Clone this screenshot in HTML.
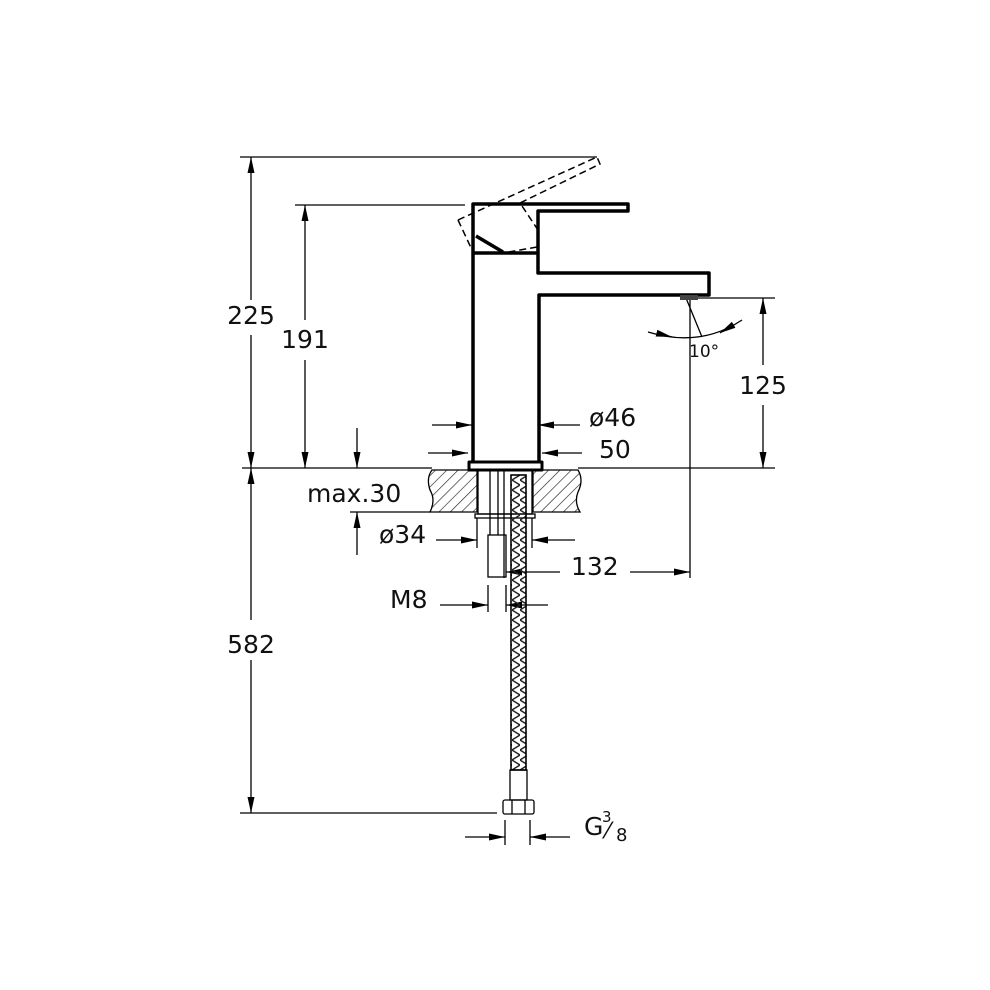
<!DOCTYPE html>
<html><head><meta charset="utf-8"><style>
html,body{margin:0;padding:0;background:#fff;}
svg{display:block;}
text{font-family:"DejaVu Sans","Liberation Sans",sans-serif;font-size:25px;fill:#111;font-weight:normal;}
</style></head><body>
<svg width="990" height="990" viewBox="0 0 990 990" xmlns="http://www.w3.org/2000/svg">
<defs>
<marker id="a" viewBox="0 0 16 8" refX="16" refY="4" markerWidth="16" markerHeight="8" markerUnits="userSpaceOnUse" orient="auto"><path d="M0,0.5 L16,4 L0,7.5 Z" fill="#000"/></marker>
<pattern id="h" width="8" height="8" patternUnits="userSpaceOnUse" patternTransform="rotate(45)"><line x1="0" y1="0" x2="0" y2="8" stroke="#222" stroke-width="1.3"/></pattern>
<pattern id="hb" width="8" height="10" patternUnits="userSpaceOnUse"><path d="M0,0 L8,5 L0,10" fill="none" stroke="#222" stroke-width="1.4"/></pattern>
</defs>
<g stroke="#000" stroke-width="1.3" fill="none">
<line x1="240" y1="157" x2="597" y2="157"/>
<line x1="295" y1="205" x2="465" y2="205"/>
<line x1="242" y1="468" x2="432" y2="468"/>
<line x1="578" y1="468" x2="775" y2="468"/>
<line x1="690" y1="298" x2="775" y2="298"/>
<line x1="240" y1="813" x2="497" y2="813"/>
<line x1="350" y1="512" x2="430" y2="512"/>
<line x1="690" y1="300" x2="690" y2="578"/>
<line x1="251" y1="300" x2="251" y2="157" marker-end="url(#a)"/>
<line x1="251" y1="335" x2="251" y2="468" marker-end="url(#a)"/>
<line x1="251" y1="620" x2="251" y2="468" marker-end="url(#a)"/>
<line x1="251" y1="660" x2="251" y2="813" marker-end="url(#a)"/>
<line x1="305" y1="320" x2="305" y2="205" marker-end="url(#a)"/>
<line x1="305" y1="360" x2="305" y2="468" marker-end="url(#a)"/>
<line x1="357" y1="428" x2="357" y2="468" marker-end="url(#a)"/>
<line x1="357" y1="555" x2="357" y2="512" marker-end="url(#a)"/>
<line x1="763" y1="365" x2="763" y2="298" marker-end="url(#a)"/>
<line x1="763" y1="405" x2="763" y2="468" marker-end="url(#a)"/>
<line x1="432" y1="425" x2="472" y2="425" marker-end="url(#a)"/>
<line x1="580" y1="425" x2="538" y2="425" marker-end="url(#a)"/>
<line x1="428" y1="453" x2="468" y2="453" marker-end="url(#a)"/>
<line x1="582" y1="453" x2="542" y2="453" marker-end="url(#a)"/>
<line x1="436" y1="540" x2="477" y2="540" marker-end="url(#a)"/>
<line x1="575" y1="540" x2="532" y2="540" marker-end="url(#a)"/>
<line x1="477" y1="518" x2="477" y2="548"/>
<line x1="532" y1="518" x2="532" y2="548"/>
<line x1="630" y1="572" x2="690" y2="572" marker-end="url(#a)"/>
<line x1="560" y1="572" x2="506" y2="572" marker-end="url(#a)"/>
<line x1="440" y1="605" x2="488" y2="605" marker-end="url(#a)"/>
<line x1="548" y1="605" x2="506" y2="605" marker-end="url(#a)"/>
<line x1="488" y1="585" x2="488" y2="612"/>
<line x1="506" y1="585" x2="506" y2="612"/>
<line x1="465" y1="837" x2="505" y2="837" marker-end="url(#a)"/>
<line x1="570" y1="837" x2="530" y2="837" marker-end="url(#a)"/>
<line x1="505" y1="820" x2="505" y2="845"/>
<line x1="530" y1="820" x2="530" y2="845"/>
<path d="M648,332 Q700,348 742,320"/>
<line x1="668" y1="336" x2="672" y2="337" marker-end="url(#a)"/>
<line x1="725" y1="330" x2="720" y2="333" marker-end="url(#a)"/>
<line x1="686" y1="298" x2="702" y2="337"/>
</g>
<path d="M432,470 L477,470 L477,512 L430,512 Q436,500 430,490 Q426,478 432,470 Z" fill="url(#h)" stroke="#000" stroke-width="1.3"/>
<path d="M533,470 L578,470 Q584,480 578,492 Q574,502 580,512 L533,512 Z" fill="url(#h)" stroke="#000" stroke-width="1.3"/>
<g stroke="#000" stroke-width="3.5" fill="none" stroke-linejoin="round">
<path d="M473,462 L473,204 L628,204 L628,211 L538,211 L538,273 L709,273 L709,295 L539,295 L539,462"/>
<path d="M473,253 L537,253"/>
<path d="M476,236 L503,252"/>
<rect x="469" y="462" width="73" height="8" stroke-width="3"/>
</g>
<path d="M458,220 L597,157 L600,164 L520,203 L538,230 M537,247 L503,253 M458,220 L473,252" stroke="#000" stroke-width="1.5" fill="none" stroke-dasharray="7,4"/>
<rect x="680" y="295" width="18" height="5" fill="#444"/>
<g stroke="#000" stroke-width="1.3" fill="none">
<rect x="478" y="470" width="54" height="44"/>
<rect x="475" y="514" width="60" height="4"/>
<line x1="490" y1="470" x2="490" y2="535"/><line x1="498" y1="470" x2="498" y2="535"/>
<line x1="504" y1="470" x2="504" y2="578"/>
<rect x="488" y="535" width="18" height="42"/>
<rect x="511" y="475" width="15" height="295" fill="url(#hb)" stroke-width="1.6"/>
<rect x="510" y="770" width="17" height="30"/>
<rect x="503" y="800" width="31" height="14" rx="2"/>
<line x1="512" y1="800" x2="512" y2="814"/><line x1="525" y1="800" x2="525" y2="814"/>
</g>
<text x="251" y="324" text-anchor="middle">225</text>
<text x="305" y="348" text-anchor="middle">191</text>
<text x="251" y="653" text-anchor="middle">582</text>
<text x="763" y="394" text-anchor="middle">125</text>
<text x="307" y="502">max.30</text>
<text x="379" y="543">ø34</text>
<text x="589" y="426">ø46</text>
<text x="599" y="458">50</text>
<text x="571" y="575">132</text>
<text x="390" y="608">M8</text>
<text x="689" y="357" style="font-size:17px">10°</text>
<text x="584" y="835">G</text>
<text x="602" y="822" style="font-size:15px">3</text>
<text x="606" y="838" style="font-size:22px">⁄</text>
<text x="616" y="841" style="font-size:18px">8</text>
</svg>
</body></html>
